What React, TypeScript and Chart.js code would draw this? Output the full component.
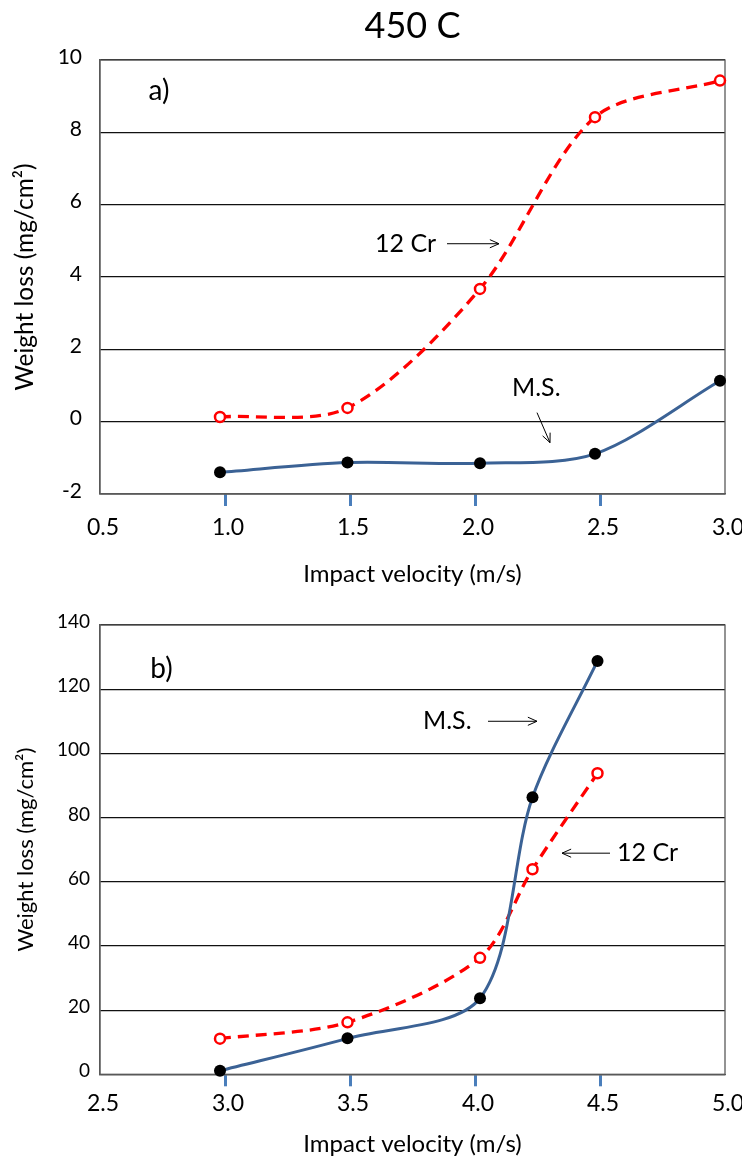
import React, { useEffect, useRef } from 'react';
import { Chart, registerables } from 'chart.js';

Chart.register(...registerables);

const FONT = 'Lato, "Open Sans", sans-serif';
const RED = '#ff0000';
const BLUE = '#3b6295';
const FRAME = '#595959';
const TICK_BLUE = '#4a7ebb';

// ---- data ----
const chartTitle = '450 C';
const xAxisTitle = 'Impact velocity (m/s)';
const yAxisTitle = 'Weight loss (mg/cm²)';
const seriesNames = ['M.S.', '12 Cr'];

// panel a)
const velocityA = [0.98, 1.49, 2.02, 2.48, 2.98];
const msA = [-1.4, -1.13, -1.15, -0.89, 1.13];
const cr12A = [0.13, 0.38, 3.67, 8.42, 9.43];
const xTicksA = [0.5, 1.0, 1.5, 2.0, 2.5, 3.0];
const yTicksA = [-2, 0, 2, 4, 6, 8, 10];

// panel b)
const velocityB = [2.98, 3.49, 4.02, 4.23, 4.49];
const msB = [1.1, 11.2, 23.7, 86.3, 128.8];
const cr12B = [11.1, 16.2, 36.3, 63.9, 93.8];
const xTicksB = [2.5, 3.0, 3.5, 4.0, 4.5, 5.0];
const yTicksB = [0, 20, 40, 60, 80, 100, 120, 140];

// annotations in data units
const notesA = {
  texts: [
    { text: 'a)', x: 0.736, y: 9.14, align: 'center', size: 28 },
    { text: '12 Cr', x: 1.6, y: 4.92, align: 'left', size: 25 },
    { text: 'M.S.', x: 2.148, y: 0.92, align: 'left', size: 25 },
  ],
  arrows: [
    { x1: 1.888, y1: 4.92, x2: 2.096, y2: 4.92 },
    { x1: 2.248, y1: 0.25, x2: 2.3, y2: -0.58 },
  ],
};
const notesB = {
  texts: [
    { text: 'b)', x: 2.746, y: 126.4, align: 'center', size: 28 },
    { text: 'M.S.', x: 3.792, y: 110, align: 'left', size: 25 },
    { text: '12 Cr', x: 4.568, y: 68.9, align: 'left', size: 25 },
  ],
  arrows: [
    { x1: 4.052, y1: 110, x2: 4.248, y2: 110 },
    { x1: 4.54, y1: 68.9, x2: 4.348, y2: 68.9 },
  ],
};

const framePlugin = {
  id: 'frame',
  beforeDatasetsDraw(chart: any) {
    const { ctx, chartArea: a } = chart;
    ctx.save();
    ctx.strokeStyle = FRAME;
    ctx.lineWidth = 1.3;
    ctx.strokeRect(a.left, a.top, a.right - a.left, a.bottom - a.top);
    ctx.restore();
  },
};

const notesPlugin = {
  id: 'notes',
  afterDraw(chart: any, _args: any, opts: any) {
    const { ctx } = chart;
    const xs = chart.scales.x;
    const ys = chart.scales.y;
    ctx.save();
    ctx.fillStyle = '#000';
    ctx.textBaseline = 'middle';
    (opts.texts || []).forEach((t: any) => {
      ctx.font = `${t.size}px ${FONT}`;
      ctx.textAlign = t.align;
      ctx.fillText(t.text, xs.getPixelForValue(t.x), ys.getPixelForValue(t.y));
    });
    ctx.strokeStyle = '#000';
    ctx.lineWidth = 1;
    (opts.arrows || []).forEach((r: any) => {
      const x1 = xs.getPixelForValue(r.x1);
      const y1 = ys.getPixelForValue(r.y1);
      const x2 = xs.getPixelForValue(r.x2);
      const y2 = ys.getPixelForValue(r.y2);
      const ang = Math.atan2(y2 - y1, x2 - x1);
      const hl = 10;
      const sp = 0.42;
      ctx.beginPath();
      ctx.moveTo(x1, y1);
      ctx.lineTo(x2, y2);
      ctx.moveTo(x2 - hl * Math.cos(ang - sp), y2 - hl * Math.sin(ang - sp));
      ctx.lineTo(x2, y2);
      ctx.lineTo(x2 - hl * Math.cos(ang + sp), y2 - hl * Math.sin(ang + sp));
      ctx.stroke();
    });
    ctx.restore();
  },
};

function buildConfig(o: any) {
  const xMin = o.xTicks[0];
  const xMax = o.xTicks[o.xTicks.length - 1];
  return {
    type: 'line',
    data: {
      datasets: [
        {
          label: seriesNames[0],
          data: o.x.map((x: number, i: number) => ({ x, y: o.ms[i] })),
          borderColor: BLUE,
          borderWidth: 3,
          tension: 0.3,
          fill: false,
          pointRadius: 6,
          pointBackgroundColor: '#000',
          pointBorderColor: '#000',
          pointBorderWidth: 0,
          clip: 10,
        },
        {
          label: seriesNames[1],
          data: o.x.map((x: number, i: number) => ({ x, y: o.cr[i] })),
          borderColor: RED,
          borderWidth: 3.3,
          borderDash: [11, 7],
          tension: 0.3,
          fill: false,
          pointRadius: 5,
          pointBorderWidth: 2.5,
          pointBackgroundColor: '#fff',
          pointBorderColor: RED,
          clip: 10,
        },
      ],
    },
    options: {
      responsive: false,
      animation: false,
      events: [],
      layout: { padding: { left: 0, right: 17, top: o.padTop, bottom: 0 } },
      plugins: {
        legend: { display: false },
        tooltip: { enabled: false },
        title: o.title
          ? {
              display: true,
              text: o.title,
              fullSize: false,
              color: '#000',
              font: { family: FONT, size: 36, weight: 'normal', lineHeight: 1.2 },
              padding: { top: 4.4, bottom: 12.4 },
            }
          : { display: false },
        notes: o.notes,
      },
      scales: {
        x: {
          type: 'linear',
          min: xMin,
          max: xMax,
          afterFit: (s: any) => {
            s.height = o.xHeight;
            s.paddingLeft = 0;
            s.paddingRight = 0;
          },
          afterBuildTicks: (s: any) => {
            s.ticks = o.xTicks.map((v: number) => ({ value: v }));
          },
          ticks: {
            callback: (v: any) => Number(v).toFixed(1),
            color: '#000',
            font: { family: FONT, size: 23, lineHeight: 1.2 },
            padding: o.xTickPad,
            labelOffset: 3,
            maxRotation: 0,
            autoSkip: false,
          },
          grid: {
            drawOnChartArea: false,
            drawTicks: true,
            tickLength: 12,
            tickWidth: 3,
            tickColor: (ctx: any) =>
              ctx.tick && (ctx.tick.value === xMin || ctx.tick.value === xMax) ? 'rgba(0,0,0,0)' : TICK_BLUE,
          },
          border: { display: true, color: FRAME, width: 1.3 },
          title: {
            display: true,
            text: xAxisTitle,
            color: '#000',
            font: { family: FONT, size: 24, lineHeight: 1.2 },
            padding: { top: 0, bottom: o.xTitlePad },
          },
        },
        y: {
          type: 'linear',
          min: o.yTicks[0],
          max: o.yTicks[o.yTicks.length - 1],
          afterFit: (s: any) => {
            s.width = 100;
            s.paddingTop = 0;
            s.paddingBottom = 0;
          },
          afterBuildTicks: (s: any) => {
            s.ticks = o.yTicks.map((v: number) => ({ value: v }));
          },
          ticks: {
            color: '#000',
            font: { family: FONT, size: o.yTickSize },
            padding: o.yTickPad,
            labelOffset: -3,
          },
          grid: {
            drawTicks: false,
            color: '#111',
            lineWidth: 1.2,
          },
          border: { display: true, color: FRAME, width: 1.3 },
          title: {
            display: true,
            text: yAxisTitle,
            color: '#000',
            font: { family: FONT, size: o.yTitleSize, lineHeight: 1.2 },
            padding: { top: o.yTitlePad, bottom: 0 },
          },
        },
      },
    },
    plugins: [framePlugin, notesPlugin],
  };
}

function ChartCanvas({ config, width, height, top }: any) {
  const ref = useRef<HTMLCanvasElement | null>(null);
  useEffect(() => {
    const chart = new Chart(ref.current as HTMLCanvasElement, config as any);
    return () => chart.destroy();
  }, []);
  return (
    <canvas
      ref={ref}
      width={width}
      height={height}
      style={{ position: 'absolute', left: 0, top, width, height, display: 'block' }}
    />
  );
}

export default function App() {
  const configA = buildConfig({
    x: velocityA,
    ms: msA,
    cr: cr12A,
    xTicks: xTicksA,
    yTicks: yTicksA,
    title: chartTitle,
    padTop: 0,
    xHeight: 106,
    xTickPad: 8.2,
    xTitlePad: 11.6,
    yTickSize: 21,
    yTickPad: 18,
    yTitleSize: 24.5,
    yTitlePad: 10,
    notes: notesA,
  });
  const configB = buildConfig({
    x: velocityB,
    ms: msB,
    cr: cr12B,
    xTicks: xTicksB,
    yTicks: yTicksB,
    title: null,
    padTop: 25,
    xHeight: 86.7,
    xTickPad: 3.9,
    xTitlePad: 2.6,
    yTickSize: 19,
    yTickPad: 10,
    yTitleSize: 22,
    yTitlePad: 12.6,
    notes: notesB,
  });
  return (
    <div style={{ position: 'fixed', left: 0, top: 0, width: 742, height: 1161, background: '#fff' }}>
      <ChartCanvas config={configA} width={742} height={600} top={0} />
      <ChartCanvas config={configB} width={742} height={561} top={600} />
    </div>
  );
}
